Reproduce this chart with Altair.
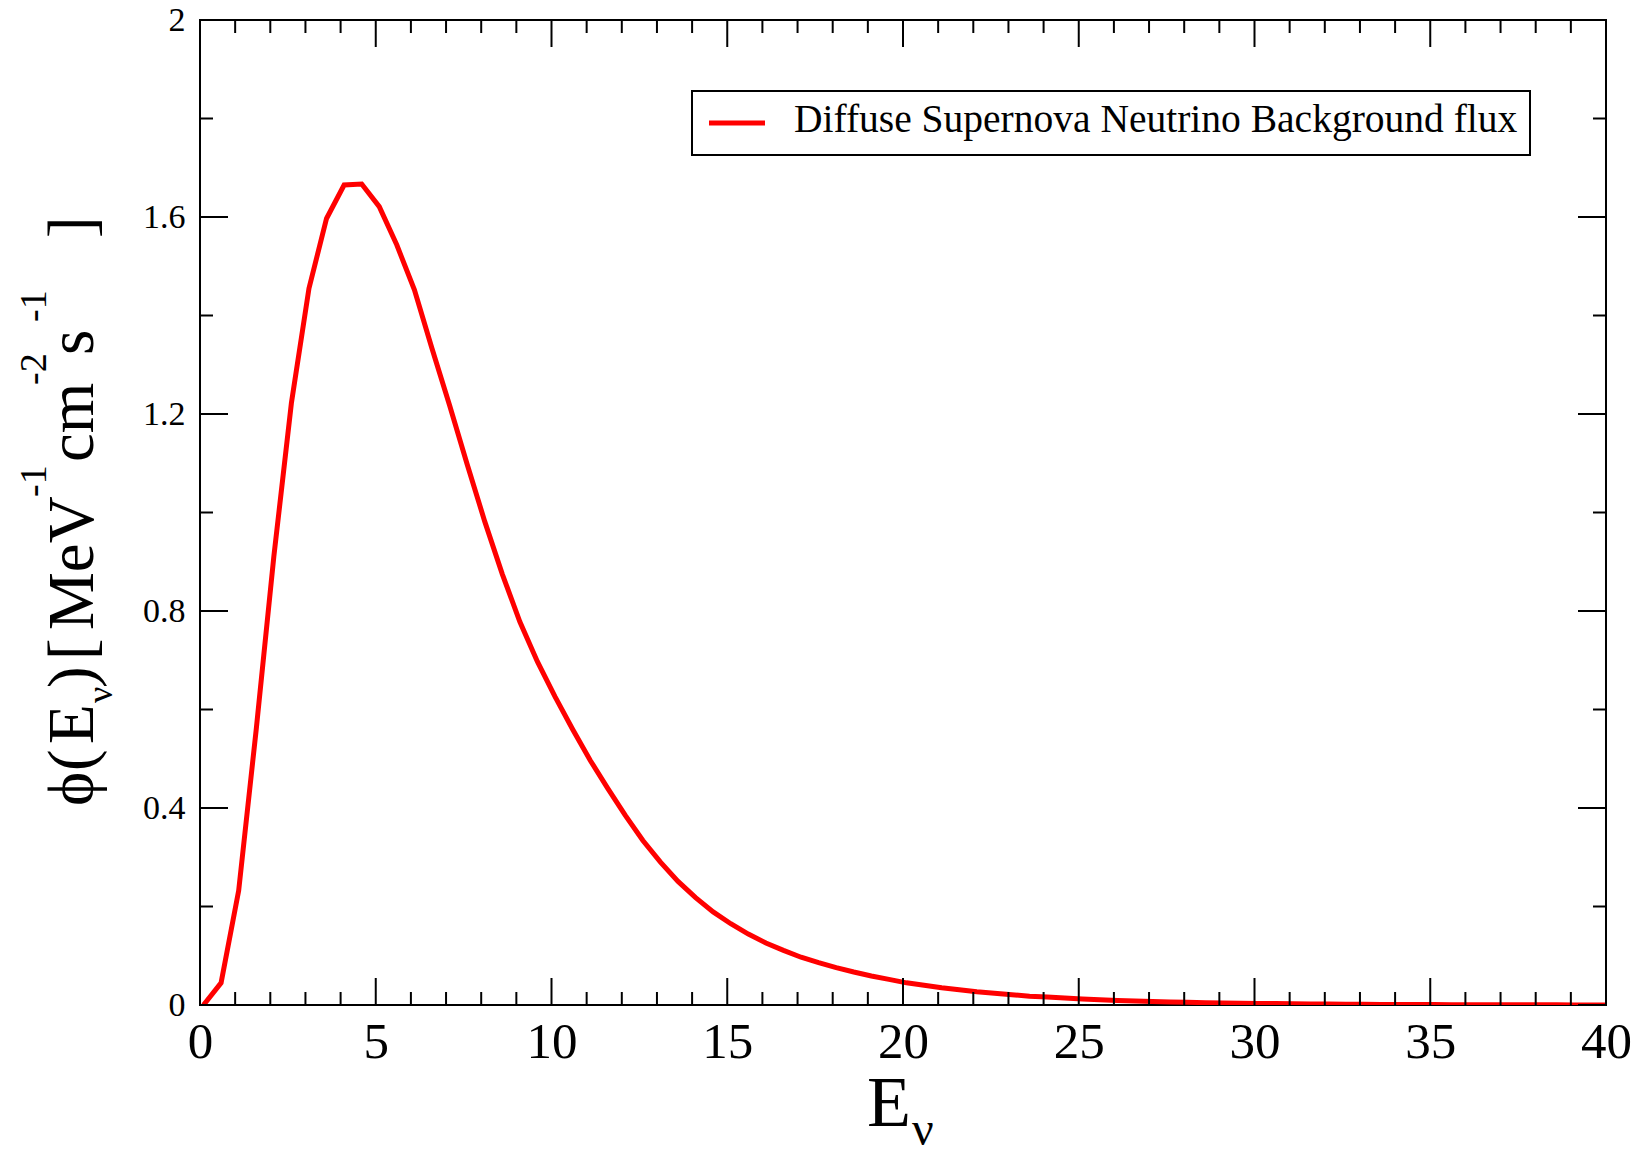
import altair as alt
import pandas as pd

# ---------------- data ----------------
energy = [0.1, 0.6, 1.1, 1.6, 2.1, 2.6, 3.1, 3.6, 4.1, 4.6,
          5.1, 5.6, 6.1, 6.6, 7.1, 7.6, 8.1, 8.6, 9.1, 9.6,
          10.1, 10.6, 11.1, 11.6, 12.1, 12.6, 13.1, 13.6, 14.1, 14.6,
          15.1, 15.6, 16.1, 16.6, 17.1, 17.6, 18.1, 18.6, 19.1, 19.6,
          20.1, 20.6, 21.1, 21.6, 22.1, 22.6, 23.1, 23.6, 24.1, 24.6,
          25.1, 25.6, 26.1, 26.6, 27.1, 27.6, 28.1, 28.6, 29.1, 29.6,
          30.1, 30.6, 31.1, 31.6, 32.1, 32.6, 33.1, 33.6, 34.1, 34.6,
          35.1, 35.6, 36.1, 36.6, 37.1, 37.6, 38.1, 38.6, 39.1, 39.6, 40.1]
flux = [0.0, 0.045, 0.232, 0.56, 0.91, 1.222, 1.455, 1.597, 1.665, 1.667,
        1.621, 1.543, 1.452, 1.333, 1.218, 1.098, 0.982, 0.875, 0.778, 0.697,
        0.626, 0.56, 0.497, 0.44, 0.385, 0.334, 0.29, 0.251, 0.218, 0.189,
        0.165, 0.144, 0.126, 0.111, 0.097, 0.086, 0.076, 0.067, 0.059, 0.052,
        0.045, 0.040, 0.035, 0.031, 0.027, 0.024, 0.021, 0.018, 0.016, 0.014,
        0.012, 0.0105, 0.0093, 0.0082, 0.0072, 0.0063, 0.0055, 0.0048, 0.0042, 0.0037,
        0.0032, 0.0028, 0.0024, 0.0021, 0.0018, 0.0016, 0.0014, 0.0012, 0.0010, 0.0009,
        0.0008, 0.0007, 0.0006, 0.0005, 0.0004, 0.0004, 0.0003, 0.0003, 0.0002, 0.0002, 0.0002]

x_major = [0, 5, 10, 15, 20, 25, 30, 35, 40]
x_minor = [1, 2, 3, 4, 6, 7, 8, 9, 11, 12, 13, 14, 16, 17, 18, 19,
           21, 22, 23, 24, 26, 27, 28, 29, 31, 32, 33, 34, 36, 37, 38, 39]
y_major = [0, 0.4, 0.8, 1.2, 1.6, 2.0]
y_minor = [0.2, 0.6, 1.0, 1.4, 1.8]

legend_label = "Diffuse Supernova Neutrino Background flux"
x_title_parts = ["E", "ν"]
y_title_parts = ["ϕ", "(", "E", "ν", ")", "[", "MeV", "-1", "cm", "-2", "s", "-1", "]"]

# ---------------- layout / style ----------------
W, H = 1406, 985
FONT = "Liberation Serif"
MAJ, MIN = 27, 13

xscale = alt.Scale(domain=[0, 40], nice=False, zero=False)
yscale = alt.Scale(domain=[0, 2], nice=False, zero=False)
xaxis = alt.Axis(values=x_major, title=None, domain=False, ticks=False, grid=False,
                 labelFont=FONT, labelFontSize=51, labelPadding=12, labelColor="black",
                 labelFlush=False, labelOverlap=False, format="~g")
yaxis = alt.Axis(values=y_major, title=None, domain=False, ticks=False, grid=False,
                 labelFont=FONT, labelFontSize=34, labelPadding=15, labelColor="black",
                 labelFlush=False, labelOverlap=False, format="~g")

df = pd.DataFrame({"E": energy, "phi": flux})

line = alt.Chart(df).mark_line(color="#ff0000", strokeWidth=5, clip=True).encode(
    x=alt.X("E:Q", scale=xscale, axis=xaxis),
    y=alt.Y("phi:Q", scale=yscale, axis=yaxis),
)


def xticks(vals, length, top):
    d = pd.DataFrame({"E": vals})
    y0, y1 = (0, length) if top else (H, H - length)
    return alt.Chart(d).mark_rule(color="black", strokeWidth=2).encode(
        x=alt.X("E:Q", scale=xscale, axis=xaxis),
        y=alt.value(y0), y2=alt.value(y1))


def yticks(vals, length, right):
    d = pd.DataFrame({"phi": vals})
    x0, x1 = (W, W - length) if right else (0, length)
    return alt.Chart(d).mark_rule(color="black", strokeWidth=2).encode(
        y=alt.Y("phi:Q", scale=yscale, axis=yaxis),
        x=alt.value(x0), x2=alt.value(x1))


ticks = [xticks(x_major, MAJ, False), xticks(x_minor, MIN, False),
         xticks(x_major, MAJ, True), xticks(x_minor, MIN, True),
         yticks(y_major, MAJ + 1, False), yticks(y_minor, MIN, False),
         yticks(y_major, MAJ + 1, True), yticks(y_minor, MIN, True)]

one = pd.DataFrame({"k": [0]})


def txt(s, x, y, size, angle=0, align="left"):
    return alt.Chart(one).mark_text(font=FONT, fontSize=size, angle=angle, align=align,
                                    baseline="alphabetic", color="black").encode(
        x=alt.value(x), y=alt.value(y), text=alt.value(s))


# legend (box, red sample, label)
legend_box = alt.Chart(one).mark_rect(fill="white", stroke="black", strokeWidth=2).encode(
    x=alt.value(492), x2=alt.value(1330), y=alt.value(71), y2=alt.value(135))
legend_line = alt.Chart(one).mark_rule(color="#ff0000", strokeWidth=5).encode(
    x=alt.value(509), x2=alt.value(565), y=alt.value(103))
legend_text = alt.Chart(pd.DataFrame({"label": [legend_label]})).mark_text(
    font=FONT, fontSize=39.5, align="left", baseline="alphabetic", color="black").encode(
    x=alt.value(594), y=alt.value(112), text="label:N")

# x title E_nu
x_title = [txt(x_title_parts[0], 667, 1106, 72), txt(x_title_parts[1], 712, 1125, 48)]

# y title pieces: (start y in full px, font size, baseline x in full px)
y_pos = [(806, 65, 93), (771, 65, 93), (744, 65, 93), (703, 36, 112), (688, 65, 93),
         (660, 65, 93), (630, 65, 93), (497, 38, 46), (462, 65, 93), (385, 38, 46),
         (355, 65, 93), (322, 38, 46), (238, 65, 93)]
y_title = [txt(s, bx - 200, sy - 20, fs, angle=270)
           for s, (sy, fs, bx) in zip(y_title_parts, y_pos)]

chart = alt.layer(line, *ticks, legend_box, legend_line, legend_text, *x_title, *y_title).properties(
    width=W, height=H,
    padding={"left": 200, "top": 20, "right": 43, "bottom": 153},
    autosize=alt.AutoSizeParams(type="none"),
    background="white",
).configure_view(stroke="black", strokeWidth=2)

chart.save("out.html", embed_options={"renderer": "svg", "actions": False})
